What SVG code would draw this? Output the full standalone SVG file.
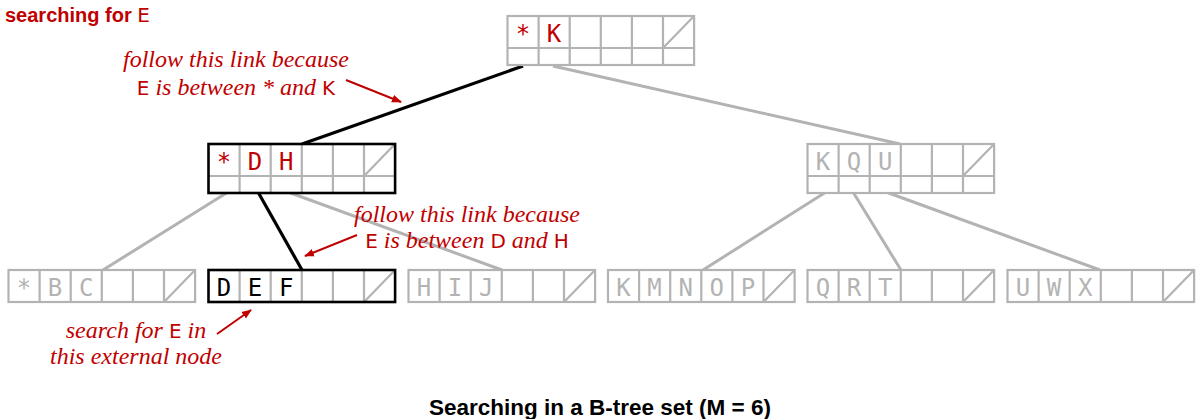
<svg xmlns="http://www.w3.org/2000/svg" width="1200" height="419" viewBox="0 0 1200 419">
<defs>
<style>
.bg{fill:#fff}
.frame{fill:none;stroke:#b3b3b3;stroke-width:2.2}
.frameB{fill:none;stroke:#000;stroke-width:2.6}
.div{stroke:#b3b3b3;stroke-width:2.2;fill:none}
.key{font-family:"DejaVu Sans Mono",monospace;font-size:24px;text-anchor:middle}
.kg{fill:#b3b3b3}
.kr{fill:#c00000}
.kb{fill:#000}
.lnk{stroke:#b3b3b3;stroke-width:3;fill:none}
.lnkB{stroke:#000;stroke-width:3.2;fill:none}
.note{font-family:"Liberation Serif",serif;font-style:italic;font-size:24px;fill:#c00000;text-anchor:middle}
.nk{font-family:"DejaVu Sans",sans-serif;font-style:normal;font-size:20px}
.arr{stroke:#c00000;stroke-width:2;fill:none;marker-end:url(#ah)}
</style>
<marker id="ah" viewBox="0 0 10 10" refX="9" refY="5" markerWidth="5" markerHeight="5" orient="auto" markerUnits="strokeWidth">
<path d="M0,1 L10,5 L0,9 z" fill="#c00000"/>
</marker>
<g id="inner-grid">
<path class="div" d="M31.1,0V49 M62.2,0V49 M93.3,0V49 M124.4,0V49 M155.5,0V49 M0,32H186.6 M155.5,32L186.6,0"/>
</g>
<g id="leaf-grid">
<path class="div" d="M31.1,0V32 M62.2,0V32 M93.3,0V32 M124.4,0V32 M155.5,0V32 M155.5,32L186.6,0"/>
</g>
</defs>
<rect class="bg" width="1200" height="419"/>

<g id="connectors">
<line class="lnk" x1="553" y1="66" x2="900" y2="144"/>
<line class="lnkB" x1="523" y1="66" x2="302" y2="144"/>
<line class="lnk" x1="228" y1="192" x2="103" y2="270"/>
<line class="lnk" x1="288" y1="192" x2="502" y2="270"/>
<line class="lnkB" x1="258" y1="192" x2="302" y2="270"/>
<line class="lnk" x1="826" y1="192" x2="703" y2="270"/>
<line class="lnk" x1="853" y1="192" x2="901" y2="270"/>
<line class="lnk" x1="886" y1="192" x2="1100" y2="270"/>
<line class="arr" x1="346" y1="80" x2="401" y2="102"/>
<line class="arr" x1="357" y1="235" x2="305" y2="256"/>
<line class="arr" x1="217" y1="334" x2="251" y2="310"/>
</g>

<g id="root" transform="translate(507.5,16)">
<rect class="bg" width="186.6" height="49"/>
<use href="#inner-grid"/>
<rect class="frame" width="186.6" height="49"/>
<text class="key kr" x="15.5" y="26">*</text>
<text class="key kr" x="46.6" y="26">K</text>
</g>

<g id="node-DH" transform="translate(208.5,144)">
<rect class="bg" width="186.6" height="49"/>
<use href="#inner-grid"/>
<rect class="frameB" width="186.6" height="49"/>
<text class="key kr" x="15.5" y="26">*</text>
<text class="key kr" x="46.6" y="26">D</text>
<text class="key kr" x="77.7" y="26">H</text>
</g>

<g id="node-KQU" transform="translate(807.5,144)">
<rect class="bg" width="186.6" height="49"/>
<use href="#inner-grid"/>
<rect class="frame" width="186.6" height="49"/>
<text class="key kg" x="15.5" y="26">K</text>
<text class="key kg" x="46.6" y="26">Q</text>
<text class="key kg" x="77.7" y="26">U</text>
</g>

<g id="leaf-BC" transform="translate(8.5,270)">
<rect class="bg" width="186.6" height="32"/>
<use href="#leaf-grid"/>
<rect class="frame" width="186.6" height="32"/>
<text class="key kg" x="15.5" y="26">*</text>
<text class="key kg" x="46.6" y="26">B</text>
<text class="key kg" x="77.7" y="26">C</text>
</g>

<g id="leaf-DEF" transform="translate(208.5,270)">
<rect class="bg" width="186.6" height="32"/>
<use href="#leaf-grid"/>
<rect class="frameB" width="186.6" height="32"/>
<text class="key kb" x="15.5" y="26">D</text>
<text class="key kb" x="46.6" y="26">E</text>
<text class="key kb" x="77.7" y="26">F</text>
</g>

<g id="leaf-HIJ" transform="translate(408.5,270)">
<rect class="bg" width="186.6" height="32"/>
<use href="#leaf-grid"/>
<rect class="frame" width="186.6" height="32"/>
<text class="key kg" x="15.5" y="26">H</text>
<text class="key kg" x="46.6" y="26">I</text>
<text class="key kg" x="77.7" y="26">J</text>
</g>

<g id="leaf-KMNOP" transform="translate(608,270)">
<rect class="bg" width="186.6" height="32"/>
<use href="#leaf-grid"/>
<rect class="frame" width="186.6" height="32"/>
<text class="key kg" x="15.5" y="26">K</text>
<text class="key kg" x="46.6" y="26">M</text>
<text class="key kg" x="77.7" y="26">N</text>
<text class="key kg" x="108.8" y="26">O</text>
<text class="key kg" x="139.9" y="26">P</text>
</g>

<g id="leaf-QRT" transform="translate(807.5,270)">
<rect class="bg" width="186.6" height="32"/>
<use href="#leaf-grid"/>
<rect class="frame" width="186.6" height="32"/>
<text class="key kg" x="15.5" y="26">Q</text>
<text class="key kg" x="46.6" y="26">R</text>
<text class="key kg" x="77.7" y="26">T</text>
</g>

<g id="leaf-UWX" transform="translate(1007.5,270)">
<rect class="bg" width="186.6" height="32"/>
<use href="#leaf-grid"/>
<rect class="frame" width="186.6" height="32"/>
<text class="key kg" x="15.5" y="26">U</text>
<text class="key kg" x="46.6" y="26">W</text>
<text class="key kg" x="77.7" y="26">X</text>
</g>

<g id="labels">
<text x="5" y="22" font-family="Liberation Sans, sans-serif" font-size="20" font-weight="bold" fill="#c00000">searching for <tspan font-family="DejaVu Sans, sans-serif" font-weight="normal">E</tspan></text>
<text class="note" x="236" y="67">follow this link because</text>
<text class="note" x="236" y="95"><tspan class="nk">E</tspan> is between * and <tspan class="nk">K</tspan></text>
<text class="note" x="467" y="222">follow this link because</text>
<text class="note" x="467" y="248"><tspan class="nk">E</tspan> is between <tspan class="nk">D</tspan> and <tspan class="nk">H</tspan></text>
<text class="note" x="136" y="338">search for <tspan class="nk">E</tspan> in</text>
<text class="note" x="136" y="364">this external node</text>
<text x="600" y="415" font-family="Liberation Sans, sans-serif" font-size="22.5" font-weight="bold" fill="#000" text-anchor="middle">Searching in a B-tree set (M = 6)</text>
</g>
</svg>
